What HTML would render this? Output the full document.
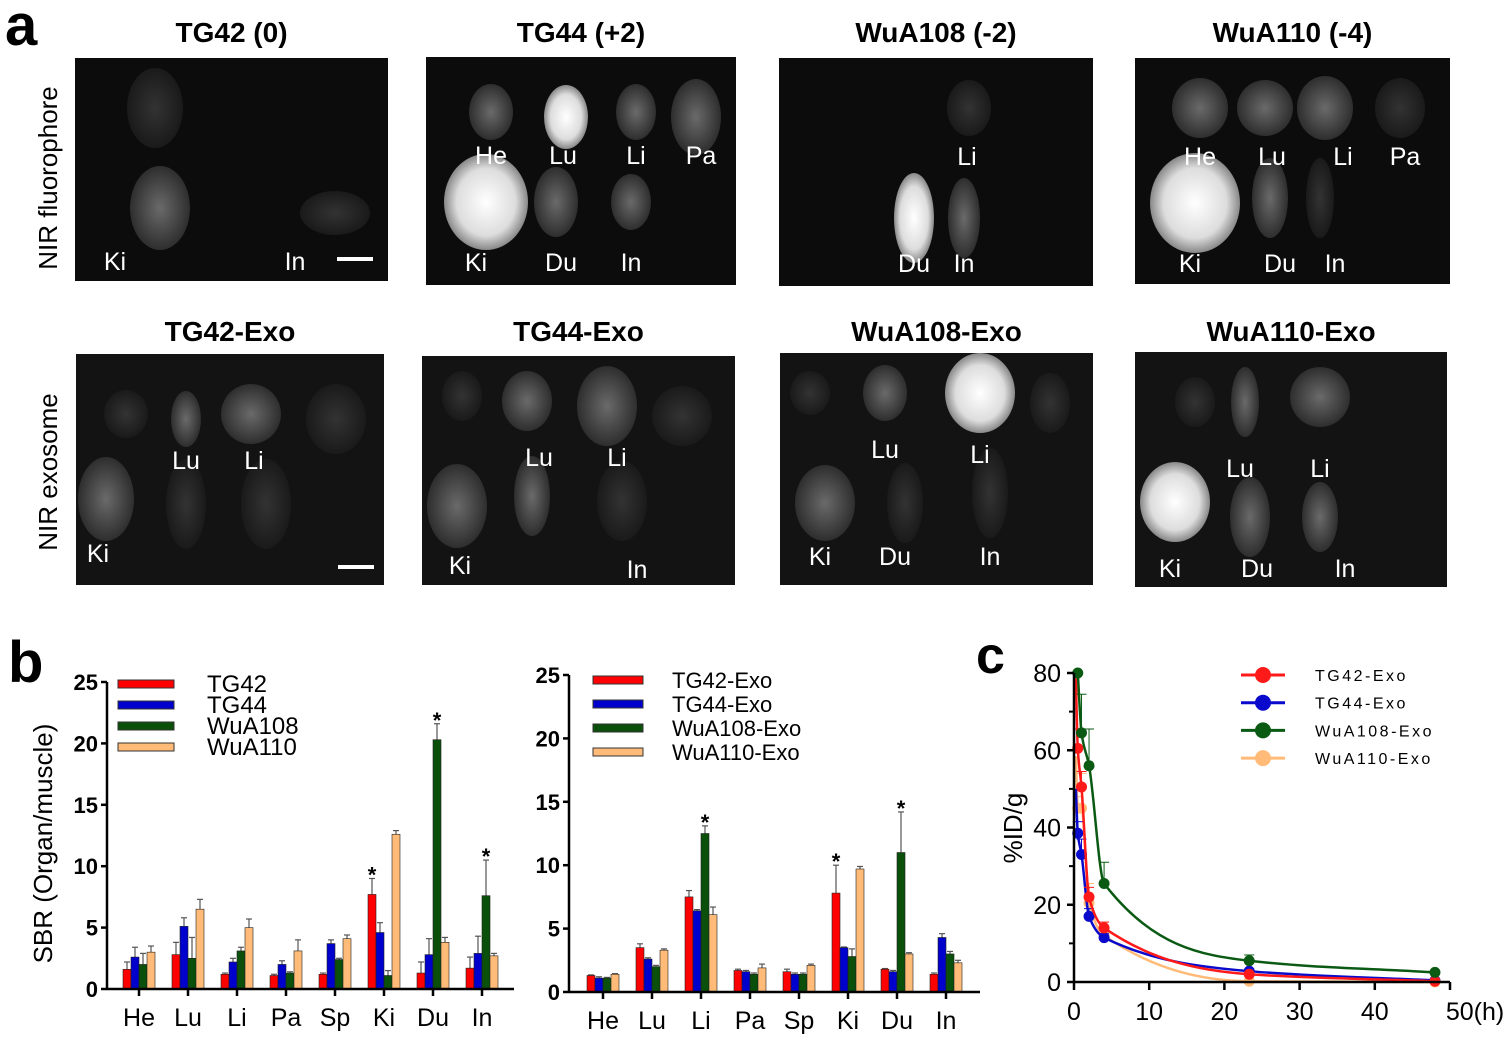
<!DOCTYPE html>
<html><head><meta charset="utf-8"><style>
body{margin:0;background:#fff;}
svg{display:block;font-family:"Liberation Sans",Arial,sans-serif;}
</style></head><body>
<svg id="fig" width="1511" height="1040" viewBox="0 0 1511 1040">
<defs>
<radialGradient id="glowW"><stop offset="0" stop-color="#fff"/><stop offset="0.7" stop-color="#ddd"/><stop offset="1" stop-color="#888"/></radialGradient>
<radialGradient id="glowG"><stop offset="0" stop-color="#6a6a6a"/><stop offset="1" stop-color="#2e2e2e"/></radialGradient>
<radialGradient id="glowD"><stop offset="0" stop-color="#333"/><stop offset="1" stop-color="#1a1a1a"/></radialGradient>
</defs>
<text x="5" y="45" font-size="58" font-weight="bold">a</text>
<text x="8" y="682" font-size="58" font-weight="bold">b</text>
<text x="976" y="673" font-size="52" font-weight="bold">c</text>
<text transform="translate(57,178) rotate(-90)" text-anchor="middle" font-size="26">NIR fluorophore</text>
<text transform="translate(57,472) rotate(-90)" text-anchor="middle" font-size="26">NIR exosome</text>
<g id="images"></g>
<g id="chartL"></g>
<g id="chartR"></g>
<g id="chartC"></g>
</svg>
<script>
const NS="http://www.w3.org/2000/svg";
function mk(tag,attrs,parent,txt){const e=document.createElementNS(NS,tag);for(const k in attrs)e.setAttribute(k,attrs[k]);if(txt!==undefined)e.textContent=txt;parent.appendChild(e);return e;}

// ---------- Panel a images ----------
const panelTitles=["TG42 (0)","TG44 (+2)","WuA108 (-2)","WuA110 (-4)","TG42-Exo","TG44-Exo","WuA108-Exo","WuA110-Exo"];
const panelBoxes=[[75,58,313,223],[426,57,310,228],[779,58,314,228],[1135,58,315,226],[76,354,308,231],[422,356,313,229],[780,353,313,232],[1135,352,312,235]];
const panelBlobs=[
 [[80,50,28,40,"D"],[85,150,30,42,"G"],[260,155,35,22,"D"]],
 [[65,55,22,28,"G"],[140,60,22,32,"W"],[210,55,20,28,"G"],[270,60,25,38,"G"],[60,145,42,48,"W"],[130,145,22,35,"G"],[205,145,20,28,"G"]],
 [[190,50,22,28,"D"],[135,160,20,45,"W"],[185,160,16,40,"G"]],
 [[65,50,28,30,"G"],[130,50,28,28,"G"],[190,50,28,32,"G"],[265,50,25,30,"D"],[60,145,45,50,"W"],[135,140,18,40,"G"],[185,140,14,40,"D"]],
 [[50,60,22,24,"D"],[110,65,15,28,"G"],[175,60,30,30,"G"],[260,65,30,35,"D"],[30,145,28,42,"G"],[110,150,20,45,"D"],[190,150,25,45,"D"]],
 [[40,40,20,25,"D"],[105,45,25,30,"G"],[185,50,30,40,"G"],[260,60,30,30,"D"],[35,150,30,42,"G"],[110,140,18,40,"G"],[200,145,25,40,"D"]],
 [[30,40,20,22,"D"],[105,40,22,28,"G"],[200,40,35,40,"W"],[270,50,20,30,"D"],[45,150,30,38,"G"],[125,150,18,40,"D"],[210,140,18,45,"D"]],
 [[60,50,20,25,"D"],[110,50,14,35,"G"],[185,45,30,30,"G"],[40,150,35,40,"W"],[115,165,20,40,"G"],[185,165,18,35,"G"]]
];
const panelLabels=[
 [["Ki",40,212],["In",220,212]],
 [["He",65,107],["Lu",137,107],["Li",210,107],["Pa",275,107],["Ki",50,214],["Du",135,214],["In",205,214]],
 [["Li",188,107],["Du",135,214],["In",185,214]],
 [["He",65,107],["Lu",137,107],["Li",208,107],["Pa",270,107],["Ki",55,214],["Du",145,214],["In",200,214]],
 [["Lu",110,115],["Li",178,115],["Ki",22,208]],
 [["Lu",117,110],["Li",195,110],["Ki",38,218],["In",215,222]],
 [["Lu",105,105],["Li",200,110],["Ki",40,212],["Du",115,212],["In",210,212]],
 [["Lu",105,125],["Li",185,125],["Ki",35,225],["Du",122,225],["In",210,225]]
];
const gImg=document.getElementById('images');
panelBoxes.forEach((b,i)=>{
  const g=mk('g',{transform:`translate(${b[0]},${b[1]})`},gImg);
  
  
  mk('rect',{x:0,y:0,width:b[2],height:b[3],fill:i<4?'#0c0c0c':'#131313'},g);
  panelBlobs[i].forEach(bl=>{mk('ellipse',{cx:bl[0],cy:bl[1],rx:bl[2],ry:bl[3],fill:bl[4]==="W"?"url(#glowW)":bl[4]==="G"?"url(#glowG)":"url(#glowD)"},g);});
  panelLabels[i].forEach(l=>{const t=mk('text',{x:l[1],y:l[2],fill:'#fff','font-size':25,'text-anchor':'middle'},g,l[0]);
    });
  if(i===0||i===4){mk('rect',{x:262,y:i===0?199:211,width:36,height:4,fill:'#fff'},g);}
  const tt=mk('text',{x:b[0]+b[2]/2,y:i<4?42:341,'text-anchor':'middle','font-size':28,'font-weight':'bold'},gImg,panelTitles[i]);
  
});

// ---------- Panel b bar charts ----------
const organs=["He","Lu","Li","Pa","Sp","Ki","Du","In"];
const barColors=["#ff0000","#0000cc","#0a4f0a","#ffbb77"];
const yTicks=[0,5,10,15,20,25];
const legendL=["TG42","TG44","WuA108","WuA110"];
const tg42=[1.6,2.8,1.2,1.1,1.2,7.7,1.3,1.7];
const tg44=[2.6,5.1,2.2,2.0,3.7,4.6,2.8,2.9];
const wua108=[2.0,2.5,3.1,1.3,2.4,1.1,20.3,7.6];
const wua110=[3.0,6.5,5.0,3.1,4.1,12.6,3.8,2.7];
const tg42Err=[0.6,1.0,0.1,0.1,0.1,1.3,0.9,0.9];
const tg44Err=[0.8,0.7,0.3,0.3,0.3,0.8,1.3,1.4];
const wua108Err=[0.9,1.7,0.3,0.1,0.1,0.4,1.3,2.9];
const wua110Err=[0.5,0.8,0.7,0.9,0.3,0.3,0.4,0.2];
const starsL=[[5,0],[6,2],[7,2]];
const legendR=["TG42-Exo","TG44-Exo","WuA108-Exo","WuA110-Exo"];
const tg42Exo=[1.3,3.5,7.5,1.7,1.6,7.8,1.8,1.4];
const tg44Exo=[1.1,2.6,6.4,1.6,1.4,3.5,1.6,4.3];
const wua108Exo=[1.1,2.0,12.5,1.4,1.4,2.8,11.0,3.0];
const wua110Exo=[1.4,3.3,6.1,1.9,2.1,9.7,3.0,2.3];
const tg42ExoErr=[0.05,0.3,0.5,0.1,0.2,2.2,0.05,0.1];
const tg44ExoErr=[0.1,0.1,0.1,0.1,0.1,0.05,0.1,0.3];
const wua108ExoErr=[0.05,0.1,0.6,0.1,0.1,0.6,3.2,0.2];
const wua110ExoErr=[0.05,0.1,0.6,0.3,0.1,0.2,0.1,0.2];
const starsR=[[2,2],[5,0],[6,2]];

function barChart(gid,cfg){
  const g=document.getElementById(gid);
  const y=v=>cfg.y0-(v/25)*(cfg.y0-cfg.y25);
  const x=i=>cfg.x0+i*cfg.step;
  cfg.series.forEach((s,si)=>{
    s.forEach((v,i)=>{
      const cx=x(i)+(si-1.5)*8;
      const e=cfg.errs[si][i];
      const eb=mk('line',{x1:cx,x2:cx,y1:y(v),y2:y(v+e),stroke:'#555','stroke-width':1.2},g);
      
      mk('line',{x1:cx-3,x2:cx+3,y1:y(v+e),y2:y(v+e),stroke:'#555','stroke-width':1.2},g);
      const r=mk('rect',{x:cx-4,y:y(v),width:8,height:y(0)-y(v),fill:barColors[si],stroke:'#222','stroke-width':0.6},g);
      
      
    });
  });
  cfg.stars.forEach(st=>{
    const si=st[1],i=st[0];const cx=x(i)+(si-1.5)*8;
    const v=cfg.series[si][i]+cfg.errs[si][i];
    const t=mk('text',{x:cx,y:y(v)+4,'text-anchor':'middle','font-size':22,'font-weight':'bold'},g,'*');
    
  });
  const ya=mk('line',{x1:cfg.ax,x2:cfg.ax,y1:cfg.y25,y2:y(0),stroke:'#000','stroke-width':2.5},g);
  
  const xa=mk('line',{x1:cfg.ax,x2:cfg.xend,y1:y(0),y2:y(0),stroke:'#000','stroke-width':2.5},g);
  
  yTicks.forEach(t=>{
    mk('line',{x1:cfg.ax-6,x2:cfg.ax,y1:y(t),y2:y(t),stroke:'#000','stroke-width':2.5},g);
    const tl=mk('text',{x:cfg.ax-9,y:y(t)+8,'text-anchor':'end','font-size':22,'font-weight':'bold'},g,String(t));
    
  });
  organs.forEach((o,i)=>{
    mk('line',{x1:x(i),x2:x(i),y1:y(0),y2:y(0)+7,stroke:'#000','stroke-width':2.5},g);
    const tl=mk('text',{x:x(i),y:y(0)+37,'text-anchor':'middle','font-size':25},g,o);
    
  });
  cfg.legend.forEach((l,i)=>{
    const ly=cfg.ly+i*cfg.lstep;
    const sw=mk('rect',{x:cfg.lx,y:ly-4,width:cfg.lw,height:8,fill:barColors[i],stroke:'#333','stroke-width':1},g);
    
    const lt=mk('text',{x:cfg.ltx,y:ly+8,'font-size':cfg.lfs},g,l);
    
  });
  if(cfg.ytitle){
    const yt=mk('text',{transform:`translate(52,${(cfg.y0+cfg.y25)/2+8}) rotate(-90)`,'text-anchor':'middle','font-size':26},g,cfg.ytitle);
    
  }
}
barChart('chartL',{series:[tg42,tg44,wua108,wua110],errs:[tg42Err,tg44Err,wua108Err,wua110Err],stars:starsL,legend:legendL,
  y0:989,y25:682,x0:139,step:49,ax:107,xend:514,lx:118,lw:56,ly:684,lstep:21,ltx:207,lfs:24,ytitle:"SBR (Organ/muscle)"});
barChart('chartR',{series:[tg42Exo,tg44Exo,wua108Exo,wua110Exo],errs:[tg42ExoErr,tg44ExoErr,wua108ExoErr,wua110ExoErr],stars:starsR,legend:legendR,
  y0:992,y25:675,x0:603,step:49,ax:569,xend:980,lx:593,lw:50,ly:680,lstep:24,ltx:672,lfs:22});

// ---------- Panel c ----------
const times=[0.5,1,2,4,23.3,48];
const tg42C=[60.5,50.5,22,14,2,0.2];
const tg44C=[38.5,33,17,11.5,2.8,0.4];
const wua108C=[80,64.5,56,25.5,5.5,2.5];
const wua110C=[45,45,20.5,12,0.2,0];
const tg42CErr=[5,4,2.5,1.5,0.5,0.2];
const tg44CErr=[3,4,2,1,0.5,0.2];
const wua108CErr=[0,10,9.5,5.5,1.5,0.5];
const wua110CErr=[3,9,5,3.5,0.2,0];
const xTicksC=[0,10,20,30,40,50];
const yTicksC=[0,20,40,60,80];
const cColors=["#ff1a1a","#0a0acc","#0a5a14","#ffbb77"];
const cNames=["TG42-Exo","TG44-Exo","WuA108-Exo","WuA110-Exo"];
function monotonePath(pts){
  const n=pts.length,dx=[],m=[],t=[];
  for(let i=0;i<n-1;i++){dx.push(pts[i+1][0]-pts[i][0]);m.push((pts[i+1][1]-pts[i][1])/dx[i]);}
  t[0]=m[0];t[n-1]=m[n-2];
  for(let i=1;i<n-1;i++){t[i]=(m[i-1]*m[i]<=0)?0:(dx[i-1]+dx[i])*3/((2*dx[i]+dx[i-1])/m[i-1]+(dx[i]+2*dx[i-1])/m[i]);}
  let d=`M${pts[0][0]},${pts[0][1]}`;
  for(let i=0;i<n-1;i++){const h=dx[i]/3;
    d+=` C${pts[i][0]+h},${pts[i][1]+t[i]*h} ${pts[i+1][0]-h},${pts[i+1][1]-t[i+1]*h} ${pts[i+1][0]},${pts[i+1][1]}`;}
  return d;
}
(function(){
  const g=document.getElementById('chartC');
  const X=t=>1074+t*(1450-1074)/50, Y=v=>982-v*(982-673)/80;
  const series=[tg42C,tg44C,wua108C,wua110C], errs=[tg42CErr,tg44CErr,wua108CErr,wua110CErr];
  const order=[3,1,0,2];
  order.forEach(si=>{
    const s=series[si];
    const pts=times.map((t,i)=>[X(t),Y(s[i])]);
    if(si!==2) pts.unshift([X(0.25),Y(Math.min(80,s[0]*1.3))]);
    const path=mk('path',{d:monotonePath(pts),fill:'none',stroke:cColors[si],'stroke-width':2.5},g);
    
    
    s.forEach((v,i)=>{
      const e=errs[si][i];
      if(e>0){mk('line',{x1:X(times[i]),x2:X(times[i]),y1:Y(v),y2:Y(v+e),stroke:cColors[si],'stroke-width':1},g);
        mk('line',{x1:X(times[i])-5,x2:X(times[i])+5,y1:Y(v+e),y2:Y(v+e),stroke:cColors[si],'stroke-width':1},g);}
      const c=mk('circle',{cx:X(times[i]),cy:Y(v),r:5.5,fill:cColors[si]},g);
      
      
    });
  });
  const ya=mk('line',{x1:1074,x2:1074,y1:673,y2:982,stroke:'#000','stroke-width':2.5},g);
  
  const xa=mk('line',{x1:1074,x2:1450,y1:982,y2:982,stroke:'#000','stroke-width':2.5},g);
  
  yTicksC.forEach(t=>{
    mk('line',{x1:1067,x2:1074,y1:Y(t),y2:Y(t),stroke:'#000','stroke-width':2.5},g);
    if(t<80) mk('line',{x1:1069,x2:1074,y1:Y(t+10),y2:Y(t+10),stroke:'#000','stroke-width':2},g);
    const tl=mk('text',{x:1061,y:Y(t)+9,'text-anchor':'end','font-size':25},g,String(t));
    
  });
  xTicksC.forEach(t=>{
    mk('line',{x1:X(t),x2:X(t),y1:982,y2:990,stroke:'#000','stroke-width':2.5},g);
    const tl=mk('text',{x:X(t)+(t===50?25:0),y:1020,'text-anchor':'middle','font-size':25},g,t===50?"50(h)":String(t));
    
  });
  const yt=mk('text',{transform:'translate(1022,828) rotate(-90)','text-anchor':'middle','font-size':26},g,'%ID/g');
  
  cNames.forEach((n,i)=>{
    const ly=675+i*27.7;
    mk('line',{x1:1241,x2:1285,y1:ly,y2:ly,stroke:cColors[i],'stroke-width':3},g);
    mk('circle',{cx:1263,cy:ly,r:8,fill:cColors[i]},g);
    const lt=mk('text',{x:1315,y:ly+6,'font-size':16,'letter-spacing':2.5},g,n);
    
  });
})();
</script>
</body></html>
